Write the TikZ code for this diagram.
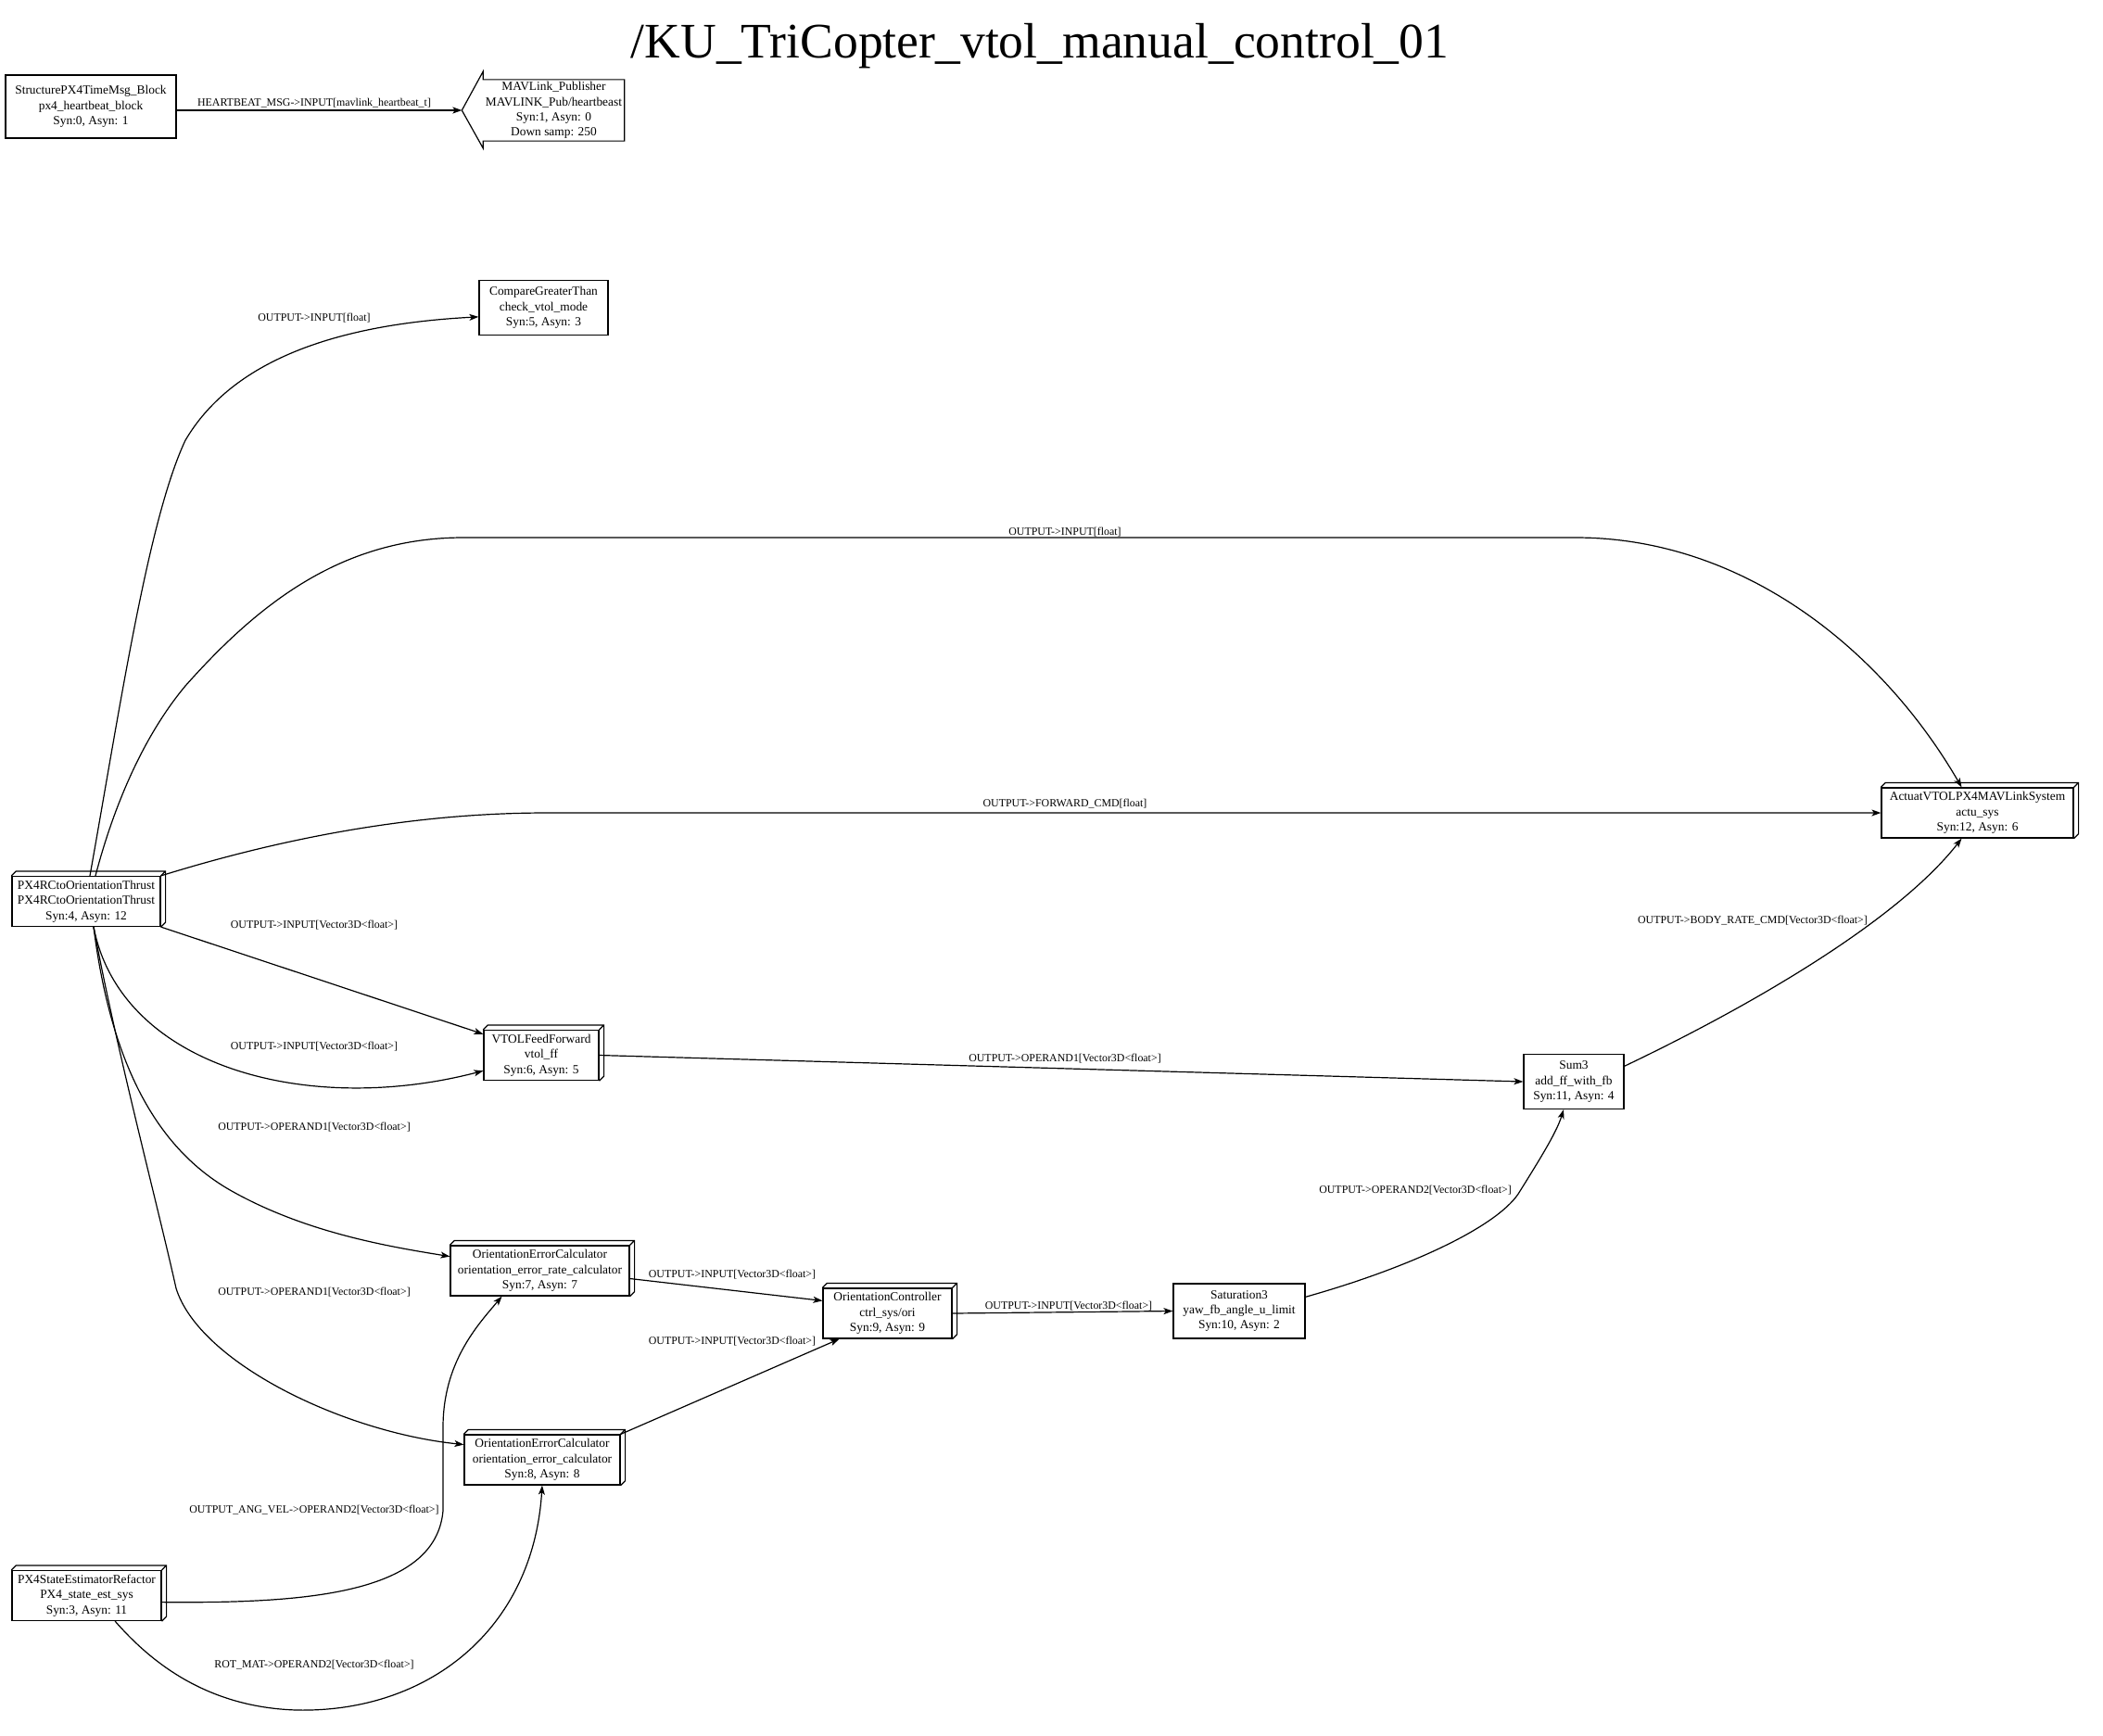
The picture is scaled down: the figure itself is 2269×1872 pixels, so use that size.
\documentclass[tikz,border=0pt]{standalone}
\usepackage{fontspec}
\setmainfont{Liberation Serif}
\usepackage{tikz}
\usetikzlibrary{arrows.meta, positioning, calc}
\newcommand{\blkfont}{\fontsize{13.4}{16.3}\selectfont}
\newcommand{\lblfont}{\fontsize{11.9}{13}\selectfont}
\tikzset{
  blockbox/.style={draw, line width=1.2pt, align=center, font=\blkfont,
                   inner sep=2pt, minimum height=59},
  block3d/.style={blockbox, minimum height=54},
  edgelbl/.style={font=\lblfont, inner sep=1pt},
  flowarrow/.style={-{Stealth[length=10pt, width=7pt, inset=2.5pt]}, line width=1.2pt}
}

\begin{document}
\begin{tikzpicture}[x=1pt, y=-1pt,
  titlelbl/.style={font=\fontsize{53.6}{60}\selectfont, anchor=base, inner sep=0pt},
  depthline/.style={line width=1.2pt},
]
\useasboundingbox (0,0) rectangle (2269,1872);

% --- Title ---
\node[titlelbl] (title) at (1122,62) {/KU\_TriCopter\_vtol\_manual\_control\_01};

% --- Heartbeat row ---
\node[blockbox, minimum width=184, minimum height=68] (hb) at (98,115)
  {StructurePX4TimeMsg\_Block\\px4\_heartbeat\_block\\Syn:0, Asyn: 1};
\node[blockbox, draw=none, minimum width=147, minimum height=58] (mav) at (597.5,119)
  {MAVLink\_Publisher\\MAVLINK\_Pub/heartbeast\\Syn:1, Asyn: 0\\Down samp: 250};
\coordinate (mavtip) at ([xshift=-23]mav.west);
\draw[depthline] (mav.north west) -- (mav.north east) -- (mav.south east) -- (mav.south west)
  -- ++(0,8) -- (mavtip) -- ([yshift=9]mav.north west) -- cycle;

% --- Blocks ---
\node[blockbox, minimum width=139] (cmp) at (586.5,332)
  {CompareGreaterThan\\check\_vtol\_mode\\Syn:5, Asyn: 3};
\node[block3d, minimum width=160] (rc) at (93,972.5)
  {PX4RCtoOrientationThrust\\PX4RCtoOrientationThrust\\Syn:4, Asyn: 12};
\node[block3d, minimum width=207] (actu) at (2133.5,877)
  {ActuatVTOLPX4MAVLinkSystem\\actu\_sys\\Syn:12, Asyn: 6};
\node[block3d, minimum width=124] (vff) at (584,1138.5)
  {VTOLFeedForward\\vtol\_ff\\Syn:6, Asyn: 5};
\node[blockbox, minimum width=108] (sum) at (1698,1167)
  {Sum3\\add\_ff\_with\_fb\\Syn:11, Asyn: 4};
\node[block3d, minimum width=193] (oerr) at (582.5,1371)
  {OrientationErrorCalculator\\orientation\_error\_rate\_calculator\\Syn:7, Asyn: 7};
\node[block3d, minimum width=139] (octl) at (957.5,1417)
  {OrientationController\\ctrl\_sys/ori\\Syn:9, Asyn: 9};
\node[blockbox, minimum width=142] (sat) at (1337,1414.5)
  {Saturation3\\yaw\_fb\_angle\_u\_limit\\Syn:10, Asyn: 2};
\node[block3d, minimum width=168] (oerrb) at (585,1575)
  {OrientationErrorCalculator\\orientation\_error\_calculator\\Syn:8, Asyn: 8};
\node[block3d, minimum width=161] (est) at (93.5,1721.5)
  {PX4StateEstimatorRefactor\\PX4\_state\_est\_sys\\Syn:3, Asyn: 11};

% --- 3D depth of the block3d nodes ---
\foreach \n in {rc,actu,vff,oerr,octl,oerrb,est}
  \draw[depthline] (\n.north west) -- ++(5,-5) -| ([shift={(5,-5)}]\n.south east)
    -- (\n.south east) (\n.north east) -- ++(5,-5);

% --- Connectors ---
\draw[flowarrow] (hb.east |- mav.west) -- (mavtip);
\draw[flowarrow] ([xshift=4]rc.north) .. controls (130,760) and (160,560) .. (200,475)
  .. controls (250,390) and (360,350) .. (cmp.188);
\draw[flowarrow] ([xshift=10]rc.north) .. controls (120,880) and (150,800) .. (200,740)
  .. controls (280,650) and (370,580) .. (500,580) -- (1700,580)
  .. controls (1880,580) and (2030,700) .. ([xshift=-17]actu.north);
\draw[flowarrow] (rc.north east) .. controls (270,915) and (420,877) .. (590,877) -- (actu.west);
\draw[flowarrow] (rc.south east) -- (vff.160);
\draw[flowarrow] ([xshift=8]rc.south) .. controls (130,1150) and (330,1205) .. (vff.195);
\draw[flowarrow] ([xshift=8]rc.south) .. controls (120,1150) and (170,1240) .. (250,1285)
  .. controls (330,1330) and (420,1345) .. (oerr.171);
\draw[flowarrow] ([xshift=8]rc.south) .. controls (125,1130) and (170,1300) .. (190,1390)
  .. controls (215,1470) and (370,1545) .. (oerrb.169);
\draw[flowarrow] (vff.east) -- (sum.west);
\draw[flowarrow] (sum.17) .. controls (1900,1080) and (2050,990) .. ([xshift=-17]actu.south);
\draw[flowarrow] (oerr.-5) -- (octl.169);
\draw[flowarrow] (oerrb.north east) -- (octl.208);
\draw[flowarrow] (octl.east) -- (sat.west);
\draw[flowarrow] (sat.12) .. controls (1530,1365) and (1620,1320) .. (1640,1285)
  .. controls (1665,1245) and (1680,1220) .. (sum.250);
\draw[flowarrow] (est.-5) .. controls (330,1730) and (470,1720) .. (478,1630) -- (478,1540)
  .. controls (478,1470) and (515,1430) .. (oerr.214);
\draw[flowarrow] (est.-42) .. controls (160,1790) and (220,1842) .. (320,1845)
  .. controls (460,1848) and (575,1760) .. (oerrb.south);

% --- Connector labels ---
\node[edgelbl] (lhb)   at (339,111)  {HEARTBEAT\_MSG->INPUT[mavlink\_heartbeat\_t]};
\node[edgelbl] (lcmp)  at (339,343)  {OUTPUT->INPUT[float]};
\node[edgelbl] (lact)  at (1149,574) {OUTPUT->INPUT[float]};
\node[edgelbl] (lfwd)  at (1149,867) {OUTPUT->FORWARD\_CMD[float]};
\node[edgelbl] (lbody) at (1891,993) {OUTPUT->BODY\_RATE\_CMD[Vector3D<float>]};
\node[edgelbl] (lvffa) at (339,998)  {OUTPUT->INPUT[Vector3D<float>]};
\node[edgelbl] (lvffb) at (339,1129) {OUTPUT->INPUT[Vector3D<float>]};
\node[edgelbl] (lsuma) at (1149,1142) {OUTPUT->OPERAND1[Vector3D<float>]};
\node[edgelbl] (loera) at (339,1216) {OUTPUT->OPERAND1[Vector3D<float>]};
\node[edgelbl] (lsumb) at (1527,1284) {OUTPUT->OPERAND2[Vector3D<float>]};
\node[edgelbl] (lctla) at (790,1375) {OUTPUT->INPUT[Vector3D<float>]};
\node[edgelbl] (loerb) at (339,1394) {OUTPUT->OPERAND1[Vector3D<float>]};
\node[edgelbl] (lsat)  at (1153,1409) {OUTPUT->INPUT[Vector3D<float>]};
\node[edgelbl] (lctlb) at (790,1447) {OUTPUT->INPUT[Vector3D<float>]};
\node[edgelbl] (lang)  at (339,1629) {OUTPUT\_ANG\_VEL->OPERAND2[Vector3D<float>]};
\node[edgelbl] (lrot)  at (339,1796) {ROT\_MAT->OPERAND2[Vector3D<float>]};

\end{tikzpicture}
\end{document}
